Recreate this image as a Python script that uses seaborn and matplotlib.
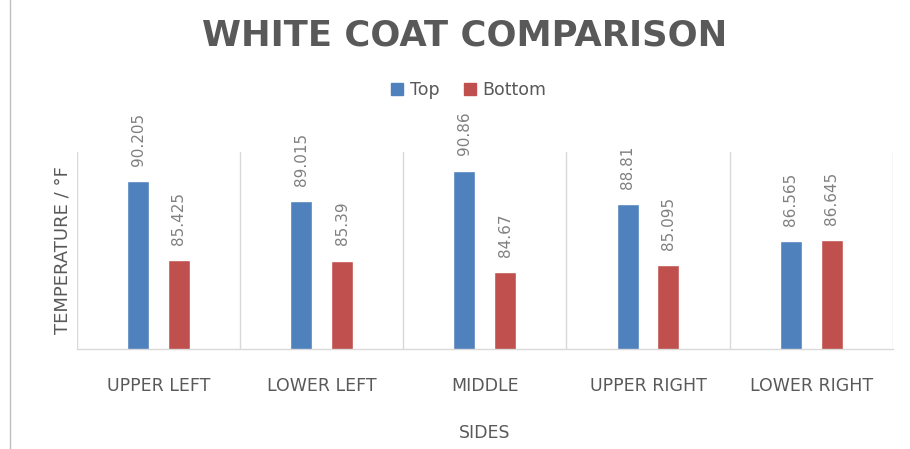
import matplotlib
matplotlib.use("Agg")
import matplotlib.pyplot as plt
import seaborn as sns
import pandas as pd
from matplotlib.lines import Line2D

categories = ["UPPER LEFT", "LOWER LEFT", "MIDDLE", "UPPER RIGHT", "LOWER RIGHT"]
top_values = [90.205, 89.015, 90.86, 88.81, 86.565]
bottom_values = [85.425, 85.39, 84.67, 85.095, 86.645]
top_labels = ["90.205", "89.015", "90.86", "88.81", "86.565"]
bottom_labels = ["85.425", "85.39", "84.67", "85.095", "86.645"]
series_names = ["Top", "Bottom"]

df = pd.DataFrame({
    "side": categories * 2,
    "series": [series_names[0]] * len(categories) + [series_names[1]] * len(categories),
    "temp": top_values + bottom_values,
})

sns.set_theme(style="white")
plt.rcParams["font.family"] = ["DejaVu Sans"]

fig = plt.figure(figsize=(9.10, 4.49), dpi=100)
ax = fig.add_axes([0.0846, 0.2227, 0.8964, 0.4388])

colors = {"Top": "#4F81BD", "Bottom": "#C0504D"}
sns.barplot(data=df, x="side", y="temp", hue="series", order=categories,
            hue_order=series_names, palette=colors, width=0.5, gap=0.46,
            ax=ax, legend=False, saturation=1)

ax.set_ylim(80, 92)
ax.set_xlim(-0.5, len(categories) - 0.5)
ax.set_yticks([])
ax.tick_params(axis="x", length=0, pad=20, labelsize=12.5, labelcolor="#595959")
for s in ["top", "right", "left"]:
    ax.spines[s].set_visible(False)
ax.spines["bottom"].set_color("#d9d9d9")
ax.spines["bottom"].set_linewidth(1)

for b in range(len(categories) + 1):
    ax.axvline(b - 0.5, color="#d9d9d9", lw=1, zorder=0)

# value labels
for container, labels in zip(ax.containers, [top_labels, bottom_labels]):
    for patch, lab in zip(container.patches, labels):
        x = patch.get_x() + patch.get_width() / 2
        y = patch.get_height()
        ax.annotate(lab, (x, y), xytext=(0, 11), textcoords="offset points",
                    rotation=90, ha="center", va="bottom", fontsize=11,
                    color="#808080")

ax.set_xlabel("SIDES", fontsize=12.5, color="#595959", labelpad=21)
ax.set_ylabel("TEMPERATURE / °F", fontsize=13, color="#595959", labelpad=4)

fig.text(0.511, 0.922, "WHITE COAT COMPARISON", ha="center", va="center",
         fontsize=25.5, fontweight="bold", color="#595959")

handles = [plt.Rectangle((0, 0), 1, 1, color=colors[n]) for n in series_names]
fig.legend(handles, series_names, loc="center", bbox_to_anchor=(0.515, 0.80),
           ncol=2, frameon=False, fontsize=12.5, handlelength=0.7,
           handleheight=0.7, handletextpad=0.4, columnspacing=1.4,
           labelcolor="#595959")

fig.add_artist(Line2D([0.011, 0.011], [0.0, 1.0], transform=fig.transFigure,
                      color="#bfbfbf", lw=1))

fig.savefig("out.png", dpi=100, facecolor="white")
